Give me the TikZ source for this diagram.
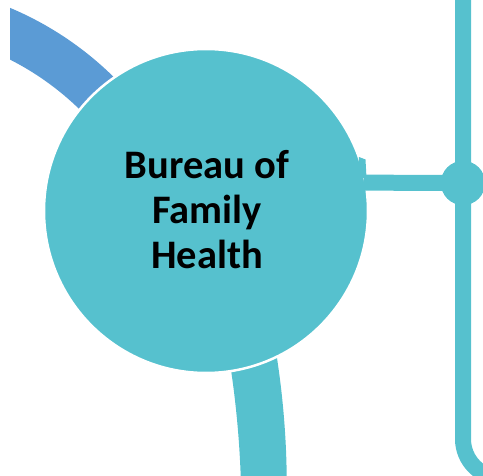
\documentclass[tikz,border=0pt]{standalone}
\usepackage{fontspec}
\setmainfont{Carlito}
\definecolor{tealc}{RGB}{86,193,206}
\definecolor{bluec}{RGB}{91,155,213}
\tikzset{
  bigcircle/.style={circle, fill=tealc, draw=white, line width=2.5pt, minimum size=324pt, inner sep=0pt},
  lbl/.style={align=center, font=\fontsize{40.5}{45}\selectfont\bfseries, text=black, inner sep=0pt},
  dotnode/.style={circle, fill=tealc, minimum size=44pt, inner sep=0pt},
  conn/.style={draw=tealc, line width=16pt},
}
\begin{document}
\begin{tikzpicture}[x=1pt,y=-1pt]
\useasboundingbox (0,0) rectangle (483,476);
% blue ring segment
\begin{scope}
  \clip (10,-10) rectangle (300,300);
  \draw[bluec, line width=47pt] (-118,312) ++(-75:306.5) arc[start angle=-75, end angle=-35, radius=306.5];
\end{scope}
% teal band going down
\fill[tealc] (229.5,360) .. controls (235.8,399.9) and (239.55,439.9) .. (240.85,480)
  -- (286.75,480) .. controls (286.38,433.3) and (282.16,386.7) .. (274.07,340) -- cycle;
% vertical line on the right
\coordinate (vtop) at (463,-5);
\coordinate (vturn) at (463,439);
\coordinate (vend) at (520,478);
\node[dotnode] (dot) at (463,183) {};
\draw[conn] (vtop) -- (vturn) arc[start angle=180, end angle=90, radius=39] -- (vend);
% main circle
\node[bigcircle] (bfh) at (206,211) {};
\node[lbl] (bfhtext) at (207,210) {Bureau of\\Family\\Health};
% connector
\fill[tealc] (359,157) -- (365.5,159.5) -- (366.5,178) -- (358,178) -- cycle;
\draw[conn, shorten <=-3pt] (bfh.10) -- (dot.center);
\node[dotnode] at (dot) {};
\end{tikzpicture}
\end{document}
